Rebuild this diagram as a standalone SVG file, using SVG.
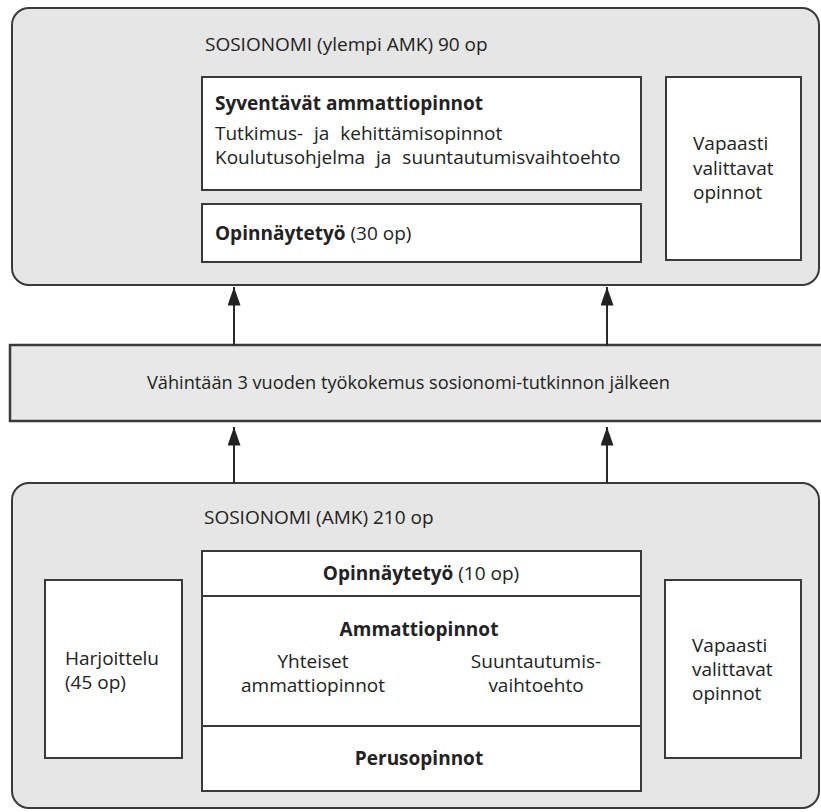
<svg xmlns="http://www.w3.org/2000/svg" width="821" height="812" viewBox="0 0 821 812">
  <style>
    .outer { fill: #e6e6e6; stroke: #3a3a3a; stroke-width: 2; }
    .inner { fill: #ffffff; stroke: #3a3a3a; stroke-width: 2; }
    .bar { fill: #e8e8e8; stroke: #3a3a3a; stroke-width: 2.5; }
    .div { stroke: #3a3a3a; stroke-width: 2; fill: none; }
    text { font-family: "Open Sans", "Noto Sans", "Liberation Sans", sans-serif; font-size: 19px; fill: #222; }
    .b { font-weight: bold; }
    .m { text-anchor: middle; }
    .ws { word-spacing: 6px; }
    .conn { stroke: #2a2a2a; stroke-width: 2; fill: none; marker-end: url(#arr); }
  </style>
  <defs>
    <marker id="arr" viewBox="0 0 20 14" refX="20" refY="7" markerWidth="19" markerHeight="13" markerUnits="userSpaceOnUse" orient="auto">
      <path d="M0,0 L20,7 L0,14 z" fill="#222"/>
    </marker>
  </defs>
  <rect width="821" height="812" fill="#ffffff"/>

  <g id="ylempi-amk">
    <rect class="outer" x="12" y="8" width="807" height="277" rx="17"/>
    <text x="205" y="51">SOSIONOMI (ylempi AMK) 90 op</text>
  </g>
  <g id="syventavat">
    <rect class="inner" x="202" y="77" width="439" height="113"/>
    <text class="b" x="215" y="110">Syventävät ammattiopinnot</text>
    <text class="ws" x="215" y="140">Tutkimus- ja kehittämisopinnot</text>
    <text class="ws" x="215" y="164">Koulutusohjelma ja suuntautumisvaihtoehto</text>
  </g>
  <g id="opinnaytetyo-30">
    <rect class="inner" x="202" y="204" width="439" height="58"/>
    <text x="215" y="240"><tspan class="b">Opinnäytetyö</tspan> (30 op)</text>
  </g>
  <g id="vapaasti-top">
    <rect class="inner" x="666" y="77" width="135" height="183"/>
    <text x="693" y="150">Vapaasti</text>
    <text x="693" y="175">valittavat</text>
    <text x="693" y="199">opinnot</text>
  </g>

  <g id="tyokokemus">
    <rect class="bar" x="10" y="345" width="820" height="76"/>
    <text x="147" y="389" font-size="18.5" textLength="523" lengthAdjust="spacingAndGlyphs">Vähintään 3 vuoden työkokemus sosionomi-tutkinnon jälkeen</text>
  </g>

  <g id="amk">
    <rect class="outer" x="12" y="483" width="807" height="325" rx="17"/>
    <text x="204" y="524">SOSIONOMI (AMK) 210 op</text>
  </g>
  <g id="harjoittelu">
    <rect class="inner" x="45" y="580" width="137" height="178"/>
    <text x="65" y="665">Harjoittelu</text>
    <text x="65" y="689">(45 op)</text>
  </g>
  <g id="amk-opinnot">
    <rect class="inner" x="202" y="551" width="439" height="240"/>
    <line class="div" x1="202" y1="596" x2="641" y2="596"/>
    <line class="div" x1="202" y1="726" x2="641" y2="726"/>
    <text class="m" x="421" y="580"><tspan class="b">Opinnäytetyö</tspan> (10 op)</text>
    <text class="m b" x="419" y="636">Ammattiopinnot</text>
    <text class="m" x="313" y="668">Yhteiset</text>
    <text class="m" x="313" y="692">ammattiopinnot</text>
    <text class="m" x="536" y="668">Suuntautumis-</text>
    <text class="m" x="536" y="692">vaihtoehto</text>
    <text class="m b" x="419" y="765">Perusopinnot</text>
  </g>
  <g id="vapaasti-bottom">
    <rect class="inner" x="665" y="580" width="136" height="178"/>
    <text x="692" y="652">Vapaasti</text>
    <text x="692" y="676">valittavat</text>
    <text x="692" y="700">opinnot</text>
  </g>

  <g id="connectors">
    <line class="conn" x1="234" y1="345" x2="234" y2="287"/>
    <line class="conn" x1="607" y1="345" x2="607" y2="287"/>
    <line class="conn" x1="234" y1="483" x2="234" y2="427"/>
    <line class="conn" x1="607" y1="483" x2="607" y2="427"/>
  </g>
</svg>
